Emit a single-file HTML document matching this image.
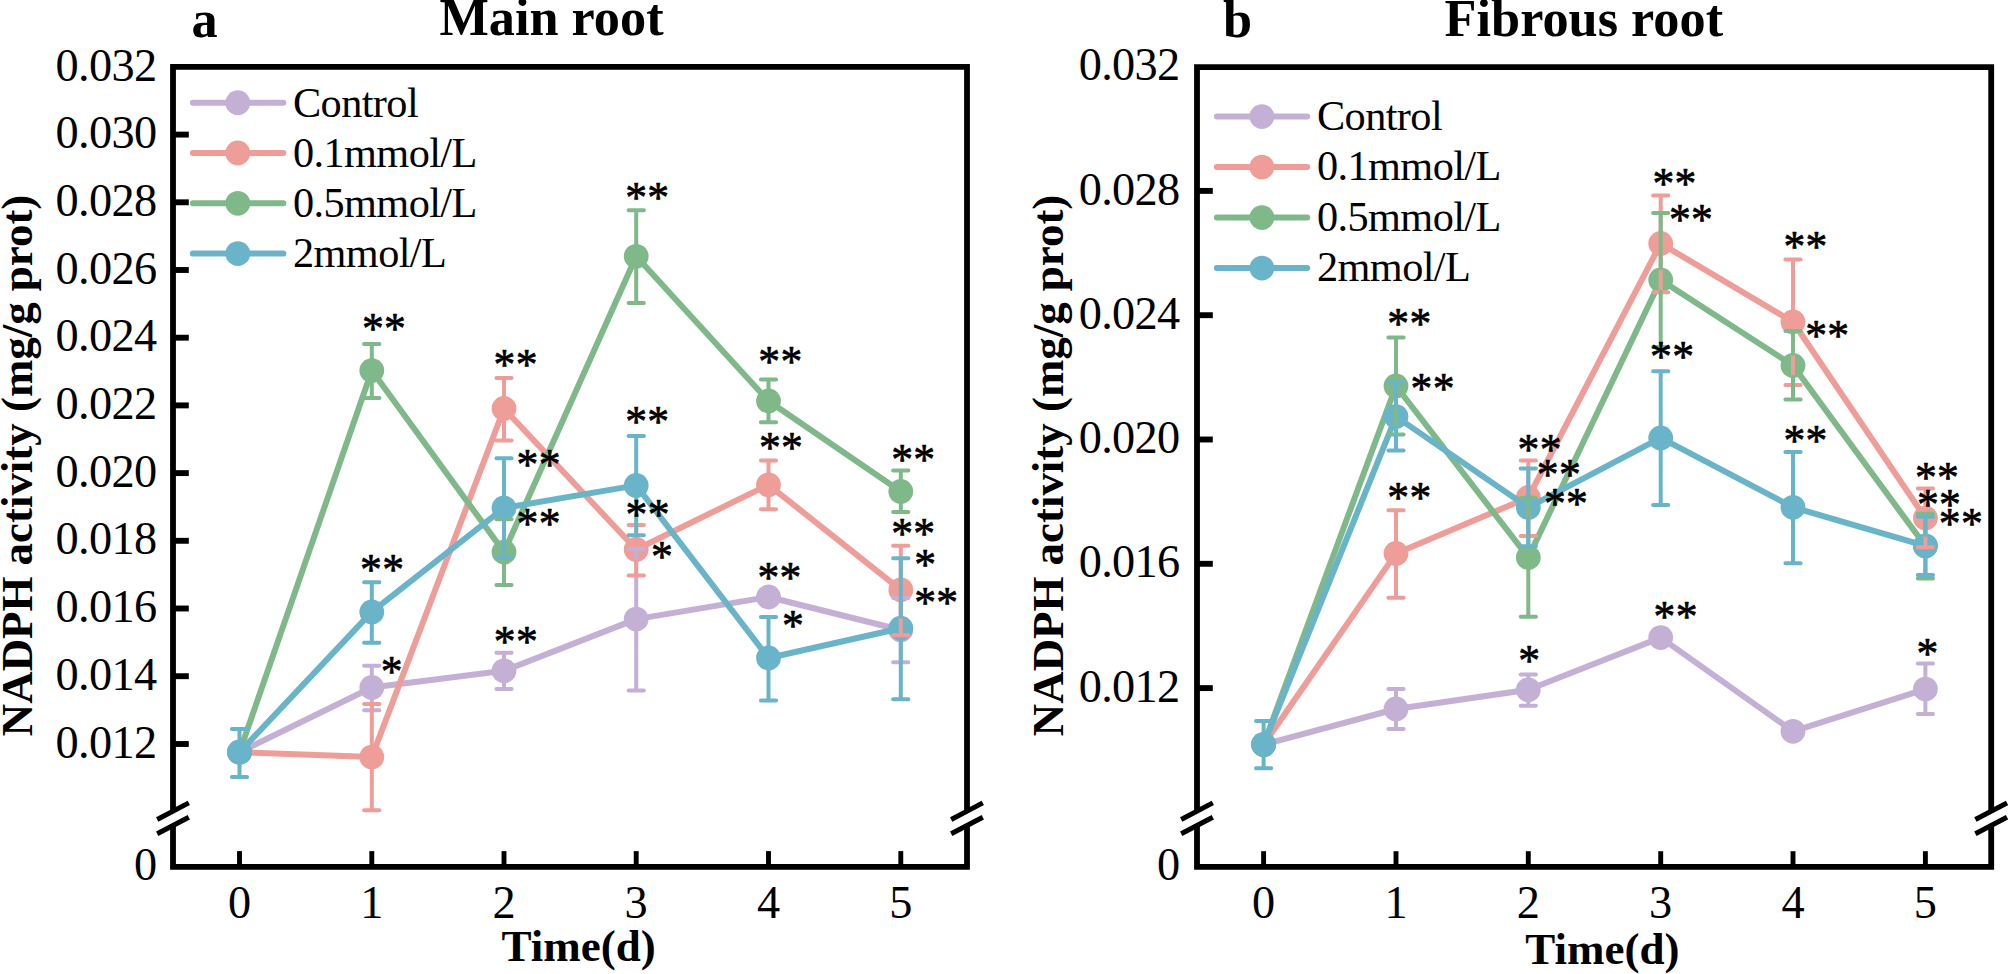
<!DOCTYPE html>
<html><head><meta charset="utf-8"><title>NADPH activity</title>
<style>
html,body{margin:0;padding:0;background:#fff;}
body{width:2008px;height:974px;overflow:hidden;}
svg{display:block;}
svg text{font-family:"Liberation Serif",serif;fill:#000;}
</style></head><body>
<svg width="2008" height="974" viewBox="0 0 2008 974">
<rect width="2008" height="974" fill="#fff"/>
<path d="M239.5 752.2 L371.8 687.5 L504.0 670.8 L636.2 619.1 L768.5 597.0 L900.8 630.0" fill="none" stroke="#c5b0d5" stroke-width="6" stroke-linejoin="round" stroke-linecap="round"/>
<circle cx="239.5" cy="752.2" r="12.4" fill="#c5b0d5"/>
<circle cx="371.8" cy="687.5" r="12.4" fill="#c5b0d5"/>
<circle cx="504.0" cy="670.8" r="12.4" fill="#c5b0d5"/>
<circle cx="636.2" cy="619.1" r="12.4" fill="#c5b0d5"/>
<circle cx="768.5" cy="597.0" r="12.4" fill="#c5b0d5"/>
<circle cx="900.8" cy="630.0" r="12.4" fill="#c5b0d5"/>
<path d="M239.5 752.2 L371.8 757.1 L504.0 408.5 L636.2 549.5 L768.5 484.8 L900.8 589.8" fill="none" stroke="#ee9d99" stroke-width="6" stroke-linejoin="round" stroke-linecap="round"/>
<circle cx="239.5" cy="752.2" r="12.4" fill="#ee9d99"/>
<circle cx="371.8" cy="757.1" r="12.4" fill="#ee9d99"/>
<circle cx="504.0" cy="408.5" r="12.4" fill="#ee9d99"/>
<circle cx="636.2" cy="549.5" r="12.4" fill="#ee9d99"/>
<circle cx="768.5" cy="484.8" r="12.4" fill="#ee9d99"/>
<circle cx="900.8" cy="589.8" r="12.4" fill="#ee9d99"/>
<path d="M239.5 752.2 L371.8 370.6 L504.0 552.1 L636.2 256.3 L768.5 401.0 L900.8 491.4" fill="none" stroke="#7fb98a" stroke-width="6" stroke-linejoin="round" stroke-linecap="round"/>
<circle cx="239.5" cy="752.2" r="12.4" fill="#7fb98a"/>
<circle cx="371.8" cy="370.6" r="12.4" fill="#7fb98a"/>
<circle cx="504.0" cy="552.1" r="12.4" fill="#7fb98a"/>
<circle cx="636.2" cy="256.3" r="12.4" fill="#7fb98a"/>
<circle cx="768.5" cy="401.0" r="12.4" fill="#7fb98a"/>
<circle cx="900.8" cy="491.4" r="12.4" fill="#7fb98a"/>
<path d="M239.5 752.2 L371.8 611.9 L504.0 508.0 L636.2 485.4 L768.5 658.0 L900.8 628.2" fill="none" stroke="#6ab4c9" stroke-width="6" stroke-linejoin="round" stroke-linecap="round"/>
<circle cx="239.5" cy="752.2" r="12.4" fill="#6ab4c9"/>
<circle cx="371.8" cy="611.9" r="12.4" fill="#6ab4c9"/>
<circle cx="504.0" cy="508.0" r="12.4" fill="#6ab4c9"/>
<circle cx="636.2" cy="485.4" r="12.4" fill="#6ab4c9"/>
<circle cx="768.5" cy="658.0" r="12.4" fill="#6ab4c9"/>
<circle cx="900.8" cy="628.2" r="12.4" fill="#6ab4c9"/>
<path d="M371.8 676.1V665.7M364.1 665.7H379.4M371.8 698.9V710.2M364.1 710.2H379.4M504.0 659.4V652.7M496.4 652.7H511.6M504.0 682.2V689.0M496.4 689.0H511.6M636.2 607.7V549.0M628.6 549.0H643.9M636.2 630.5V690.5M628.6 690.5H643.9M900.8 618.6V598.1M893.1 598.1H908.4M900.8 641.4V662.2M893.1 662.2H908.4" fill="none" stroke="#c5b0d5" stroke-width="4" stroke-linecap="round"/>
<path d="M371.8 745.7V703.9M364.1 703.9H379.4M371.8 768.5V810.3M364.1 810.3H379.4M504.0 397.1V378.0M496.4 378.0H511.6M504.0 419.9V440.5M496.4 440.5H511.6M636.2 538.1V525.1M628.6 525.1H643.9M636.2 560.9V575.4M628.6 575.4H643.9M768.5 473.4V460.4M760.9 460.4H776.1M768.5 496.2V509.3M760.9 509.3H776.1M900.8 578.4V545.8M893.1 545.8H908.4M900.8 601.2V635.2M893.1 635.2H908.4" fill="none" stroke="#ee9d99" stroke-width="4" stroke-linecap="round"/>
<path d="M371.8 359.2V344.0M364.1 344.0H379.4M371.8 382.0V397.9M364.1 397.9H379.4M504.0 540.7V519.3M496.4 519.3H511.6M504.0 563.5V585.1M496.4 585.1H511.6M636.2 244.9V210.3M628.6 210.3H643.9M636.2 267.7V302.9M628.6 302.9H643.9M768.5 389.6V379.4M760.9 379.4H776.1M768.5 412.4V422.3M760.9 422.3H776.1M900.8 480.0V470.5M893.1 470.5H908.4M900.8 502.8V512.1M893.1 512.1H908.4" fill="none" stroke="#7fb98a" stroke-width="4" stroke-linecap="round"/>
<path d="M239.5 740.8V729.1M231.9 729.1H247.1M239.5 763.6V776.9M231.9 776.9H247.1M371.8 600.5V582.3M364.1 582.3H379.4M371.8 623.3V642.7M364.1 642.7H379.4M504.0 496.6V458.3M496.4 458.3H511.6M504.0 519.4V558.0M496.4 558.0H511.6M636.2 474.0V435.9M628.6 435.9H643.9M636.2 496.8V535.2M628.6 535.2H643.9M768.5 646.6V617.1M760.9 617.1H776.1M768.5 669.4V700.5M760.9 700.5H776.1M900.8 616.8V558.2M893.1 558.2H908.4M900.8 639.6V699.2M893.1 699.2H908.4" fill="none" stroke="#6ab4c9" stroke-width="4" stroke-linecap="round"/>
<path d="M192.9 102.7H283.3" stroke="#c5b0d5" stroke-width="6" stroke-linecap="round"/>
<circle cx="237.8" cy="102.7" r="12.4" fill="#c5b0d5"/>
<text x="293.0" y="116.5" font-size="42.3" letter-spacing="-0.6">Control</text>
<path d="M192.9 153.0H283.3" stroke="#ee9d99" stroke-width="6" stroke-linecap="round"/>
<circle cx="237.8" cy="153.0" r="12.4" fill="#ee9d99"/>
<text x="293.0" y="166.8" font-size="42.3" letter-spacing="-0.6">0.1mmol/L</text>
<path d="M192.9 203.3H283.3" stroke="#7fb98a" stroke-width="6" stroke-linecap="round"/>
<circle cx="237.8" cy="203.3" r="12.4" fill="#7fb98a"/>
<text x="293.0" y="217.1" font-size="42.3" letter-spacing="-0.6">0.5mmol/L</text>
<path d="M192.9 253.6H283.3" stroke="#6ab4c9" stroke-width="6" stroke-linecap="round"/>
<circle cx="237.8" cy="253.6" r="12.4" fill="#6ab4c9"/>
<text x="293.0" y="267.4" font-size="42.3" letter-spacing="-0.6">2mmol/L</text>
<path d="M173 811.2V66.8H967V811.2M173 825.5V866.8H967V825.5" fill="none" stroke="#000" stroke-width="5.8" stroke-linejoin="miter" stroke-linecap="butt"/>
<path d="M157.2 819.5L188.8 802.9000000000001" stroke="#000" stroke-width="5"/>
<path d="M157.2 833.8L188.8 817.2" stroke="#000" stroke-width="5"/>
<path d="M951.2 819.5L982.8 802.9000000000001" stroke="#000" stroke-width="5"/>
<path d="M951.2 833.8L982.8 817.2" stroke="#000" stroke-width="5"/>
<path d="M173 744.0H188.8" stroke="#000" stroke-width="5.9"/>
<path d="M173 676.2H188.8" stroke="#000" stroke-width="5.9"/>
<path d="M173 608.5H188.8" stroke="#000" stroke-width="5.9"/>
<path d="M173 540.8H188.8" stroke="#000" stroke-width="5.9"/>
<path d="M173 473.1H188.8" stroke="#000" stroke-width="5.9"/>
<path d="M173 405.4H188.8" stroke="#000" stroke-width="5.9"/>
<path d="M173 337.7H188.8" stroke="#000" stroke-width="5.9"/>
<path d="M173 270.0H188.8" stroke="#000" stroke-width="5.9"/>
<path d="M173 202.3H188.8" stroke="#000" stroke-width="5.9"/>
<path d="M173 134.6H188.8" stroke="#000" stroke-width="5.9"/>
<path d="M239.5 866.8V851.1" stroke="#000" stroke-width="4.9"/>
<path d="M371.8 866.8V851.1" stroke="#000" stroke-width="4.9"/>
<path d="M504.0 866.8V851.1" stroke="#000" stroke-width="4.9"/>
<path d="M636.2 866.8V851.1" stroke="#000" stroke-width="4.9"/>
<path d="M768.5 866.8V851.1" stroke="#000" stroke-width="4.9"/>
<path d="M900.8 866.8V851.1" stroke="#000" stroke-width="4.9"/>
<text x="156.4" y="757.6" font-size="46.3" letter-spacing="-0.65" text-anchor="end">0.012</text>
<text x="156.4" y="689.8" font-size="46.3" letter-spacing="-0.65" text-anchor="end">0.014</text>
<text x="156.4" y="622.1" font-size="46.3" letter-spacing="-0.65" text-anchor="end">0.016</text>
<text x="156.4" y="554.4" font-size="46.3" letter-spacing="-0.65" text-anchor="end">0.018</text>
<text x="156.4" y="486.7" font-size="46.3" letter-spacing="-0.65" text-anchor="end">0.020</text>
<text x="156.4" y="419.0" font-size="46.3" letter-spacing="-0.65" text-anchor="end">0.022</text>
<text x="156.4" y="351.3" font-size="46.3" letter-spacing="-0.65" text-anchor="end">0.024</text>
<text x="156.4" y="283.6" font-size="46.3" letter-spacing="-0.65" text-anchor="end">0.026</text>
<text x="156.4" y="215.9" font-size="46.3" letter-spacing="-0.65" text-anchor="end">0.028</text>
<text x="156.4" y="148.2" font-size="46.3" letter-spacing="-0.65" text-anchor="end">0.030</text>
<text x="156.4" y="80.5" font-size="46.3" letter-spacing="-0.65" text-anchor="end">0.032</text>
<text x="156.4" y="880.1" font-size="46.3" letter-spacing="-0.65" text-anchor="end">0</text>
<text x="239.5" y="918.3" font-size="46.3" text-anchor="middle">0</text>
<text x="371.8" y="918.3" font-size="46.3" text-anchor="middle">1</text>
<text x="504.0" y="918.3" font-size="46.3" text-anchor="middle">2</text>
<text x="636.2" y="918.3" font-size="46.3" text-anchor="middle">3</text>
<text x="768.5" y="918.3" font-size="46.3" text-anchor="middle">4</text>
<text x="900.8" y="918.3" font-size="46.3" text-anchor="middle">5</text>
<text x="362.0" y="342.5" font-size="43.6" letter-spacing="0.3" stroke="#000" stroke-width="0.7" stroke-linejoin="round">**</text>
<text x="493.6" y="379.3" font-size="43.6" letter-spacing="0.3" stroke="#000" stroke-width="0.7" stroke-linejoin="round">**</text>
<text x="360.1" y="583.8" font-size="43.6" letter-spacing="0.3" stroke="#000" stroke-width="0.7" stroke-linejoin="round">**</text>
<text x="380.8" y="685.8" font-size="43.6" letter-spacing="0.3" stroke="#000" stroke-width="0.7" stroke-linejoin="round">*</text>
<text x="493.8" y="656.1" font-size="43.6" letter-spacing="0.3" stroke="#000" stroke-width="0.7" stroke-linejoin="round">**</text>
<text x="516.6" y="479.3" font-size="43.6" letter-spacing="0.3" stroke="#000" stroke-width="0.7" stroke-linejoin="round">**</text>
<text x="516.6" y="537.8" font-size="43.6" letter-spacing="0.3" stroke="#000" stroke-width="0.7" stroke-linejoin="round">**</text>
<text x="625.2" y="211.9" font-size="43.6" letter-spacing="0.3" stroke="#000" stroke-width="0.7" stroke-linejoin="round">**</text>
<text x="625.2" y="435.8" font-size="43.6" letter-spacing="0.3" stroke="#000" stroke-width="0.7" stroke-linejoin="round">**</text>
<text x="625.6" y="529.3" font-size="43.6" letter-spacing="0.3" stroke="#000" stroke-width="0.7" stroke-linejoin="round">**</text>
<text x="651.1" y="570.8" font-size="43.6" letter-spacing="0.3" stroke="#000" stroke-width="0.7" stroke-linejoin="round">*</text>
<text x="758.3" y="376.3" font-size="43.6" letter-spacing="0.3" stroke="#000" stroke-width="0.7" stroke-linejoin="round">**</text>
<text x="758.9" y="462.3" font-size="43.6" letter-spacing="0.3" stroke="#000" stroke-width="0.7" stroke-linejoin="round">**</text>
<text x="757.5" y="591.8" font-size="43.6" letter-spacing="0.3" stroke="#000" stroke-width="0.7" stroke-linejoin="round">**</text>
<text x="781.9" y="640.3" font-size="43.6" letter-spacing="0.3" stroke="#000" stroke-width="0.7" stroke-linejoin="round">*</text>
<text x="891.2" y="473.9" font-size="43.6" letter-spacing="0.3" stroke="#000" stroke-width="0.7" stroke-linejoin="round">**</text>
<text x="891.2" y="547.5" font-size="43.6" letter-spacing="0.3" stroke="#000" stroke-width="0.7" stroke-linejoin="round">**</text>
<text x="914.2" y="578.8" font-size="43.6" letter-spacing="0.3" stroke="#000" stroke-width="0.7" stroke-linejoin="round">*</text>
<text x="914.2" y="617.1" font-size="43.6" letter-spacing="0.3" stroke="#000" stroke-width="0.7" stroke-linejoin="round">**</text>
<text x="191.5" y="36.8" font-size="52.3" font-weight="bold">a</text>
<text x="439.4" y="34.8" font-size="52.3" font-weight="bold">Main root</text>
<text transform="translate(31.5 736.2)  rotate(-90)" font-size="44.9" font-weight="bold">NADPH activity (mg/g prot)</text>
<text x="501.5" y="961.3" font-size="45" font-weight="bold">Time(d)</text>
<path d="M1263.6 744.6 L1396.0 709.0 L1528.3 689.8 L1660.7 637.6 L1793.0 731.3 L1925.4 689.1" fill="none" stroke="#c5b0d5" stroke-width="6" stroke-linejoin="round" stroke-linecap="round"/>
<circle cx="1263.6" cy="744.6" r="12.4" fill="#c5b0d5"/>
<circle cx="1396.0" cy="709.0" r="12.4" fill="#c5b0d5"/>
<circle cx="1528.3" cy="689.8" r="12.4" fill="#c5b0d5"/>
<circle cx="1660.7" cy="637.6" r="12.4" fill="#c5b0d5"/>
<circle cx="1793.0" cy="731.3" r="12.4" fill="#c5b0d5"/>
<circle cx="1925.4" cy="689.1" r="12.4" fill="#c5b0d5"/>
<path d="M1263.6 744.6 L1396.0 553.4 L1528.3 497.5 L1660.7 243.5 L1793.0 322.0 L1925.4 518.1" fill="none" stroke="#ee9d99" stroke-width="6" stroke-linejoin="round" stroke-linecap="round"/>
<circle cx="1263.6" cy="744.6" r="12.4" fill="#ee9d99"/>
<circle cx="1396.0" cy="553.4" r="12.4" fill="#ee9d99"/>
<circle cx="1528.3" cy="497.5" r="12.4" fill="#ee9d99"/>
<circle cx="1660.7" cy="243.5" r="12.4" fill="#ee9d99"/>
<circle cx="1793.0" cy="322.0" r="12.4" fill="#ee9d99"/>
<circle cx="1925.4" cy="518.1" r="12.4" fill="#ee9d99"/>
<path d="M1263.6 744.6 L1396.0 386.0 L1528.3 557.4 L1660.7 280.0 L1793.0 365.4 L1925.4 546.1" fill="none" stroke="#7fb98a" stroke-width="6" stroke-linejoin="round" stroke-linecap="round"/>
<circle cx="1263.6" cy="744.6" r="12.4" fill="#7fb98a"/>
<circle cx="1396.0" cy="386.0" r="12.4" fill="#7fb98a"/>
<circle cx="1528.3" cy="557.4" r="12.4" fill="#7fb98a"/>
<circle cx="1660.7" cy="280.0" r="12.4" fill="#7fb98a"/>
<circle cx="1793.0" cy="365.4" r="12.4" fill="#7fb98a"/>
<circle cx="1925.4" cy="546.1" r="12.4" fill="#7fb98a"/>
<path d="M1263.6 744.6 L1396.0 416.6 L1528.3 507.4 L1660.7 437.9 L1793.0 507.3 L1925.4 545.8" fill="none" stroke="#6ab4c9" stroke-width="6" stroke-linejoin="round" stroke-linecap="round"/>
<circle cx="1263.6" cy="744.6" r="12.4" fill="#6ab4c9"/>
<circle cx="1396.0" cy="416.6" r="12.4" fill="#6ab4c9"/>
<circle cx="1528.3" cy="507.4" r="12.4" fill="#6ab4c9"/>
<circle cx="1660.7" cy="437.9" r="12.4" fill="#6ab4c9"/>
<circle cx="1793.0" cy="507.3" r="12.4" fill="#6ab4c9"/>
<circle cx="1925.4" cy="545.8" r="12.4" fill="#6ab4c9"/>
<path d="M1396.0 697.6V689.0M1388.4 689.0H1403.6M1396.0 720.4V729.0M1388.4 729.0H1403.6M1528.3 678.4V674.5M1520.7 674.5H1535.9M1528.3 701.2V705.8M1520.7 705.8H1535.9M1925.4 677.7V663.5M1917.8 663.5H1933.0M1925.4 700.5V714.0M1917.8 714.0H1933.0" fill="none" stroke="#c5b0d5" stroke-width="4" stroke-linecap="round"/>
<path d="M1396.0 542.0V510.3M1388.4 510.3H1403.6M1396.0 564.8V597.7M1388.4 597.7H1403.6M1528.3 486.1V460.5M1520.7 460.5H1535.9M1528.3 508.9V536.1M1520.7 536.1H1535.9M1660.7 232.1V195.4M1653.1 195.4H1668.3M1660.7 254.9V292.2M1653.1 292.2H1668.3M1793.0 310.6V259.6M1785.4 259.6H1800.6M1793.0 333.4V385.0M1785.4 385.0H1800.6M1925.4 506.7V488.4M1917.8 488.4H1933.0M1925.4 529.5V547.3M1917.8 547.3H1933.0" fill="none" stroke="#ee9d99" stroke-width="4" stroke-linecap="round"/>
<path d="M1396.0 374.6V337.5M1388.4 337.5H1403.6M1396.0 397.4V434.6M1388.4 434.6H1403.6M1528.3 546.0V498.1M1520.7 498.1H1535.9M1528.3 568.8V616.7M1520.7 616.7H1535.9M1660.7 268.6V212.9M1653.1 212.9H1668.3M1660.7 291.4V347.0M1653.1 347.0H1668.3M1793.0 354.0V331.0M1785.4 331.0H1800.6M1793.0 376.8V399.5M1785.4 399.5H1800.6M1925.4 534.7V513.7M1917.8 513.7H1933.0M1925.4 557.5V578.5M1917.8 578.5H1933.0" fill="none" stroke="#7fb98a" stroke-width="4" stroke-linecap="round"/>
<path d="M1263.6 733.2V721.0M1256.0 721.0H1271.2M1263.6 756.0V768.3M1256.0 768.3H1271.2M1396.0 405.2V382.5M1388.4 382.5H1403.6M1396.0 428.0V450.5M1388.4 450.5H1403.6M1528.3 496.0V468.6M1520.7 468.6H1535.9M1528.3 518.8V546.2M1520.7 546.2H1535.9M1660.7 426.5V371.3M1653.1 371.3H1668.3M1660.7 449.3V505.0M1653.1 505.0H1668.3M1793.0 495.9V451.9M1785.4 451.9H1800.6M1793.0 518.7V563.3M1785.4 563.3H1800.6M1925.4 534.4V516.7M1917.8 516.7H1933.0M1925.4 557.2V575.0M1917.8 575.0H1933.0" fill="none" stroke="#6ab4c9" stroke-width="4" stroke-linecap="round"/>
<path d="M1216.9 116.6H1307.2" stroke="#c5b0d5" stroke-width="6" stroke-linecap="round"/>
<circle cx="1261.9" cy="116.6" r="12.4" fill="#c5b0d5"/>
<text x="1317.0" y="129.6" font-size="42.3" letter-spacing="-0.6">Control</text>
<path d="M1216.9 167.1H1307.2" stroke="#ee9d99" stroke-width="6" stroke-linecap="round"/>
<circle cx="1261.9" cy="167.1" r="12.4" fill="#ee9d99"/>
<text x="1317.0" y="180.1" font-size="42.3" letter-spacing="-0.6">0.1mmol/L</text>
<path d="M1216.9 217.6H1307.2" stroke="#7fb98a" stroke-width="6" stroke-linecap="round"/>
<circle cx="1261.9" cy="217.6" r="12.4" fill="#7fb98a"/>
<text x="1317.0" y="230.6" font-size="42.3" letter-spacing="-0.6">0.5mmol/L</text>
<path d="M1216.9 268.1H1307.2" stroke="#6ab4c9" stroke-width="6" stroke-linecap="round"/>
<circle cx="1261.9" cy="268.1" r="12.4" fill="#6ab4c9"/>
<text x="1317.0" y="281.1" font-size="42.3" letter-spacing="-0.6">2mmol/L</text>
<path d="M1197.0 811.2V67.2H1991.2V811.2M1197.0 825.5V866.9H1991.2V825.5" fill="none" stroke="#000" stroke-width="5.8" stroke-linejoin="miter" stroke-linecap="butt"/>
<path d="M1181.2 819.5L1212.8 802.9000000000001" stroke="#000" stroke-width="5"/>
<path d="M1181.2 833.8L1212.8 817.2" stroke="#000" stroke-width="5"/>
<path d="M1975.4 819.5L2007.0 802.9000000000001" stroke="#000" stroke-width="5"/>
<path d="M1975.4 833.8L2007.0 817.2" stroke="#000" stroke-width="5"/>
<path d="M1197.0 688.1H1212.8" stroke="#000" stroke-width="5.9"/>
<path d="M1197.0 563.8H1212.8" stroke="#000" stroke-width="5.9"/>
<path d="M1197.0 439.5H1212.8" stroke="#000" stroke-width="5.9"/>
<path d="M1197.0 315.2H1212.8" stroke="#000" stroke-width="5.9"/>
<path d="M1197.0 190.9H1212.8" stroke="#000" stroke-width="5.9"/>
<path d="M1263.6 866.9V851.2" stroke="#000" stroke-width="4.9"/>
<path d="M1396.0 866.9V851.2" stroke="#000" stroke-width="4.9"/>
<path d="M1528.3 866.9V851.2" stroke="#000" stroke-width="4.9"/>
<path d="M1660.7 866.9V851.2" stroke="#000" stroke-width="4.9"/>
<path d="M1793.0 866.9V851.2" stroke="#000" stroke-width="4.9"/>
<path d="M1925.4 866.9V851.2" stroke="#000" stroke-width="4.9"/>
<text x="1179.6" y="701.7" font-size="46.3" letter-spacing="-0.65" text-anchor="end">0.012</text>
<text x="1179.6" y="577.4" font-size="46.3" letter-spacing="-0.65" text-anchor="end">0.016</text>
<text x="1179.6" y="453.1" font-size="46.3" letter-spacing="-0.65" text-anchor="end">0.020</text>
<text x="1179.6" y="328.8" font-size="46.3" letter-spacing="-0.65" text-anchor="end">0.024</text>
<text x="1179.6" y="204.5" font-size="46.3" letter-spacing="-0.65" text-anchor="end">0.028</text>
<text x="1179.6" y="80.2" font-size="46.3" letter-spacing="-0.65" text-anchor="end">0.032</text>
<text x="1179.6" y="880.1" font-size="46.3" letter-spacing="-0.65" text-anchor="end">0</text>
<text x="1263.6" y="918.3" font-size="46.3" text-anchor="middle">0</text>
<text x="1396.0" y="918.3" font-size="46.3" text-anchor="middle">1</text>
<text x="1528.3" y="918.3" font-size="46.3" text-anchor="middle">2</text>
<text x="1660.7" y="918.3" font-size="46.3" text-anchor="middle">3</text>
<text x="1793.0" y="918.3" font-size="46.3" text-anchor="middle">4</text>
<text x="1925.4" y="918.3" font-size="46.3" text-anchor="middle">5</text>
<text x="1387.3" y="338.3" font-size="43.6" letter-spacing="0.3" stroke="#000" stroke-width="0.7" stroke-linejoin="round">**</text>
<text x="1410.6" y="403.0" font-size="43.6" letter-spacing="0.3" stroke="#000" stroke-width="0.7" stroke-linejoin="round">**</text>
<text x="1387.3" y="512.3" font-size="43.6" letter-spacing="0.3" stroke="#000" stroke-width="0.7" stroke-linejoin="round">**</text>
<text x="1517.6" y="464.2" font-size="43.6" letter-spacing="0.3" stroke="#000" stroke-width="0.7" stroke-linejoin="round">**</text>
<text x="1536.8" y="488.7" font-size="43.6" letter-spacing="0.3" stroke="#000" stroke-width="0.7" stroke-linejoin="round">**</text>
<text x="1544.0" y="518.0" font-size="43.6" letter-spacing="0.3" stroke="#000" stroke-width="0.7" stroke-linejoin="round">**</text>
<text x="1518.2" y="674.6" font-size="43.6" letter-spacing="0.3" stroke="#000" stroke-width="0.7" stroke-linejoin="round">*</text>
<text x="1652.4" y="197.9" font-size="43.6" letter-spacing="0.3" stroke="#000" stroke-width="0.7" stroke-linejoin="round">**</text>
<text x="1669.0" y="233.8" font-size="43.6" letter-spacing="0.3" stroke="#000" stroke-width="0.7" stroke-linejoin="round">**</text>
<text x="1650.1" y="371.4" font-size="43.6" letter-spacing="0.3" stroke="#000" stroke-width="0.7" stroke-linejoin="round">**</text>
<text x="1653.6" y="630.8" font-size="43.6" letter-spacing="0.3" stroke="#000" stroke-width="0.7" stroke-linejoin="round">**</text>
<text x="1783.4" y="260.6" font-size="43.6" letter-spacing="0.3" stroke="#000" stroke-width="0.7" stroke-linejoin="round">**</text>
<text x="1805.2" y="350.4" font-size="43.6" letter-spacing="0.3" stroke="#000" stroke-width="0.7" stroke-linejoin="round">**</text>
<text x="1783.4" y="455.0" font-size="43.6" letter-spacing="0.3" stroke="#000" stroke-width="0.7" stroke-linejoin="round">**</text>
<text x="1914.9" y="492.0" font-size="43.6" letter-spacing="0.3" stroke="#000" stroke-width="0.7" stroke-linejoin="round">**</text>
<text x="1916.9" y="519.2" font-size="43.6" letter-spacing="0.3" stroke="#000" stroke-width="0.7" stroke-linejoin="round">**</text>
<text x="1938.8" y="537.5" font-size="43.6" letter-spacing="0.3" stroke="#000" stroke-width="0.7" stroke-linejoin="round">**</text>
<text x="1916.4" y="667.9" font-size="43.6" letter-spacing="0.3" stroke="#000" stroke-width="0.7" stroke-linejoin="round">*</text>
<text x="1223.1" y="36.8" font-size="52.3" font-weight="bold">b</text>
<text x="1444.6" y="35.6" font-size="52.3" font-weight="bold">Fibrous root</text>
<text transform="translate(1062.6 736.2)  rotate(-90)" font-size="44.9" font-weight="bold">NADPH activity (mg/g prot)</text>
<text x="1525.3" y="964.4" font-size="45" font-weight="bold">Time(d)</text>
</svg>
</body></html>
